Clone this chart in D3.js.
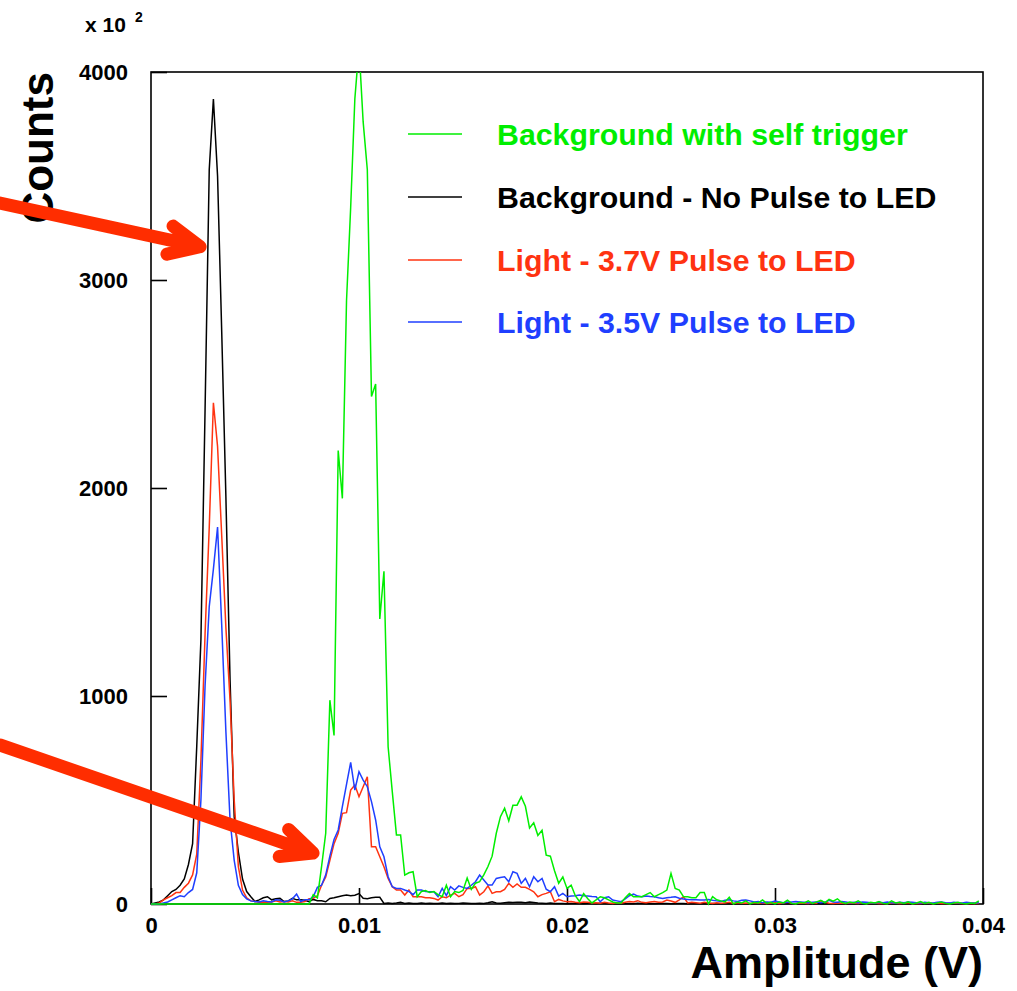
<!DOCTYPE html>
<html>
<head>
<meta charset="utf-8">
<script src="https://cdn.jsdelivr.net/npm/d3@7"></script>
<style>
  body { margin: 0; background: #fff; }
  svg text { font-family: "Liberation Sans", Arial, Helvetica, sans-serif; font-weight: bold; }
</style>
</head>
<body>
<svg id="chart" width="1017" height="991"></svg>
<script>
// Amplitude histogram: bin k is centred at k * binWidth volts, counts in units of 10^2
const binWidth = 0.0002;
const xTicks = [0, 0.01, 0.02, 0.03, 0.04];
const yTicks = [0, 1000, 2000, 3000, 4000];

const seriesNames = [
  "Background with self trigger",
  "Background - No Pulse to LED",
  "Light - 3.7V Pulse to LED",
  "Light - 3.5V Pulse to LED"
];
const seriesColors = ["#00ee00", "#000000", "#ff3311", "#1f3fff"];

const noPulse = [
  0, 5, 10, 20, 40, 60, 70, 90, 120, 190,
  290, 760, 1270, 2380, 3530, 3870, 3500, 2750, 1960, 1080,
  420, 250, 120, 60, 35, 12, 20, 30, 35, 20,
  25, 27, 12, 15, 27, 20, 20, 18, 11, 22,
  16, 16, 11, 27, 30, 35, 40, 43, 40, 42,
  50, 28, 25, 30, 32, 32, 3, 5, 3, 5,
  8, 3, 5, 3, 3, 5, 2, 4, 3, 2,
  5, 3, 4, 2, 3, 5, 4, 3, 2, 4,
  3, 6, 11, 5, 4, 6, 8, 7, 9, 8,
  6, 9, 7, 5, 4, 3, 5, 2, 3, 2,
  1, 2, 3, 2, 1, 2, 2, 1, 3, 2,
  1, 2, 1, 2, 1, 2, 1, 3, 2, 1,
  2, 1, 2, 3, 2, 1, 2, 3, 2, 1,
  2, 1, 1, 2, 1, 2, 1, 1, 2, 1,
  1, 2, 1, 1, 2, 1, 1, 1, 2, 1,
  1, 1, 2, 1, 1, 1, 2, 1, 1, 1,
  2, 1, 1, 1, 1, 2, 1, 1, 1, 1,
  2, 1, 1, 1, 1, 1, 2, 1, 1, 1,
  1, 2, 1, 1, 1, 1, 1, 2, 1, 1,
  1, 1, 2, 1, 1, 1, 1, 1, 2, 1
];

const pulse37 = [
  0, 0, 5, 20, 30, 40, 55, 55, 80, 100,
  140, 240, 690, 1300, 1810, 2410, 2200, 1770, 1330, 980,
  500, 180, 67, 30, 15, 12, 8, 10, 8, 10,
  15, 10, 12, 10, 15, 8, 8, 12, 25, 27,
  40, 90, 130, 210, 290, 340, 436, 439, 548, 572,
  516, 564, 612, 275, 275, 227, 179, 123, 83, 67,
  67, 43, 67, 35, 35, 35, 30, 30, 27, 19,
  35, 30, 43, 51, 35, 45, 75, 75, 83, 43,
  59, 87, 51, 59, 59, 70, 99, 80, 96, 80,
  80, 70, 59, 35, 45, 51, 59, 11, 22, 15,
  11, 12, 8, 6, 10, 8, 5, 6, 4, 8,
  5, 3, 6, 4, 8, 12, 10, 16, 8, 6,
  10, 12, 8, 10, 19, 14, 8, 20, 35, 5,
  8, 6, 4, 8, 5, 3, 6, 4, 5, 8,
  3, 6, 4, 5, 3, 6, 4, 5, 3, 4,
  6, 3, 5, 8, 4, 3, 5, 4, 3, 6,
  4, 15, 8, 4, 3, 5, 4, 3, 5, 4,
  3, 6, 3, 4, 5, 3, 4, 3, 5, 4,
  3, 4, 6, 3, 4, 3, 5, 4, 3, 5,
  3, 4, 3, 5, 4, 3, 4, 3, 4, 3
];

const pulse35 = [
  0, 0, 0, 5, 10, 20, 30, 40, 35, 55,
  70, 150, 500, 1050, 1430, 1610, 1812, 1340, 830, 404,
  210, 90, 45, 25, 15, 12, 10, 15, 12, 10,
  20, 18, 10, 15, 25, 48, 12, 20, 20, 35,
  80, 90, 140, 230, 310, 356, 468, 575, 681, 548,
  636, 596, 564, 492, 404, 275, 227, 131, 83, 75,
  75, 67, 60, 45, 67, 67, 60, 59, 59, 35,
  75, 40, 83, 67, 87, 80, 75, 90, 107, 139,
  115, 91, 91, 123, 127, 131, 107, 155, 147, 99,
  123, 83, 131, 107, 123, 71, 59, 83, 38, 51,
  35, 38, 40, 43, 40, 38, 36, 35, 11, 30,
  35, 19, 15, 11, 25, 40, 48, 38, 35, 38,
  36, 35, 30, 27, 30, 32, 35, 28, 24, 22,
  20, 20, 19, 19, 22, 18, 15, 12, 18, 20,
  15, 12, 18, 19, 15, 10, 12, 6, 10, 8,
  14, 10, 6, 8, 10, 12, 10, 8, 6, 8,
  10, 6, 8, 18, 10, 8, 12, 10, 6, 8,
  6, 10, 8, 6, 5, 8, 6, 10, 6, 5,
  8, 6, 10, 8, 6, 5, 8, 6, 5, 8,
  10, 6, 5, 8, 6, 5, 8, 6, 5, 6
];

const selfTrigger = [
  0, 0, 0, 0, 0, 0, 0, 0, 0, 0,
  0, 0, 0, 0, 0, 0, 0, 0, 0, 0,
  0, 0, 0, 0, 0, 0, 0, 0, 0, 0,
  0, 0, 0, 0, 0, 0, 0, 0, 0, 45,
  30, 180, 340, 980, 810, 2180, 1950, 2900, 3350, 3870,
  4120, 3760, 3530, 2440, 2500, 1370, 1600, 756, 540, 332,
  332, 139, 150, 155, 35, 60, 65, 55, 60, 45,
  35, 90, 35, 60, 55, 65, 125, 70, 100, 107,
  140, 180, 230, 340, 420, 460, 400, 475, 475, 515,
  470, 365, 390, 330, 355, 235, 230, 160, 100, 130,
  75, 90, 40, 12, 50, 25, 5, 20, 35, 30,
  20, 10, 5, 5, 30, 50, 35, 35, 35, 45,
  55, 35, 45, 55, 67, 147, 75, 67, 35, 35,
  30, 30, 55, 55, 0, 35, 20, 15, 10, 32,
  0, 10, 5, 15, 0, 8, 5, 20, 3, 8,
  0, 10, 5, 18, 3, 0, 8, 5, 15, 3,
  10, 18, 6, 22, 14, 25, 8, 3, 10, 5,
  15, 3, 0, 8, 5, 12, 3, 0, 15, 5,
  8, 3, 10, 0, 5, 12, 3, 8, 0, 5,
  10, 3, 0, 5, 8, 3, 0, 5, 3, 15
];

// Annotation arrows: tip in data coordinates, tail in page pixels
const arrowTips = [[0.00236, 3160], [0.00779, 245]];
const arrowTails = [[0, 203], [0, 745]];

const svg = d3.select("#chart");
const frameL = 151, frameR = 983, frameT = 72, frameB = 904;

const x = d3.scaleLinear().domain([0, 0.04]).range([frameL, frameR]);
const y = d3.scaleLinear().domain([0, 4000]).range([frameB, frameT]);

svg.append("defs").append("clipPath").attr("id", "plotClip")
  .append("rect").attr("x", frameL).attr("y", frameT)
  .attr("width", frameR - frameL).attr("height", frameB - frameT + 4);

// axes with inward ticks
const xAxis = svg.append("g").attr("transform", `translate(0,${frameB})`)
  .call(d3.axisBottom(x).tickValues(xTicks)
    .tickFormat(d => d === 0 ? "0" : d3.format(".2f")(d))
    .tickSizeInner(-16).tickSizeOuter(0).tickPadding(13));
const yAxis = svg.append("g").attr("transform", `translate(${frameL},0)`)
  .call(d3.axisLeft(y).tickValues(yTicks).tickFormat(d3.format("d"))
    .tickSizeInner(-16).tickSizeOuter(0).tickPadding(23));
[xAxis, yAxis].forEach(g => {
  g.select(".domain").remove();
  g.attr("font-family", null).attr("font-size", 22);
  g.selectAll("line").attr("stroke", "#000").attr("stroke-width", 1.6);
  g.selectAll("text").attr("fill", "#000");
});

// frame
svg.append("rect").attr("x", frameL).attr("y", frameT)
  .attr("width", frameR - frameL).attr("height", frameB - frameT)
  .attr("fill", "none").attr("stroke", "#000").attr("stroke-width", 1.6);

// histograms drawn as polylines through bin centres
const line = d3.line().x((d, i) => x(i * binWidth)).y(d => y(d));
const drawOrder = [
  [noPulse, 1], [pulse37, 2], [pulse35, 3], [selfTrigger, 0]
];
const plot = svg.append("g").attr("clip-path", "url(#plotClip)");
drawOrder.forEach(([vals, c]) => {
  plot.append("path").datum(vals).attr("d", line)
    .attr("fill", "none").attr("stroke", seriesColors[c])
    .attr("stroke-width", 1.5).attr("stroke-linejoin", "miter");
});

// legend
const legendY = [134, 197, 260, 322];
seriesNames.forEach((name, i) => {
  svg.append("line").attr("x1", 408).attr("x2", 462)
    .attr("y1", legendY[i]).attr("y2", legendY[i])
    .attr("stroke", seriesColors[i]).attr("stroke-width", 1.5);
  svg.append("text").attr("x", 497).attr("y", legendY[i] + 10.8)
    .attr("font-size", 30.3).attr("fill", seriesColors[i]).text(name);
});

// axis titles and exponent
svg.append("text").attr("x", 85).attr("y", 32).attr("font-size", 21).text("x 10");
svg.append("text").attr("x", 135).attr("y", 22).attr("font-size", 14).text("2");
svg.append("text").attr("transform", "translate(53,72) rotate(-90)")
  .attr("text-anchor", "end").attr("font-size", 44).text("Counts");
svg.append("text").attr("x", 983).attr("y", 978)
  .attr("text-anchor", "end").attr("font-size", 45).text("Amplitude (V)");

// arrows
const arrowColor = "#ff2d00";
arrowTips.forEach((tip, i) => {
  const tx = x(tip[0]), ty = y(tip[1]);
  const [sx, sy] = arrowTails[i];
  const ang = Math.atan2(sy - ty, sx - tx);
  const len = 34, spread = 25 * Math.PI / 180;
  const b1 = [tx + len * Math.cos(ang + spread), ty + len * Math.sin(ang + spread)];
  const b2 = [tx + len * Math.cos(ang - spread), ty + len * Math.sin(ang - spread)];
  svg.append("path")
    .attr("d", `M${sx},${sy}L${tx},${ty}M${b1[0]},${b1[1]}L${tx},${ty}L${b2[0]},${b2[1]}`)
    .attr("fill", "none").attr("stroke", arrowColor).attr("stroke-width", 13)
    .attr("stroke-linecap", "round").attr("stroke-linejoin", "round");
});
</script>
</body>
</html>
